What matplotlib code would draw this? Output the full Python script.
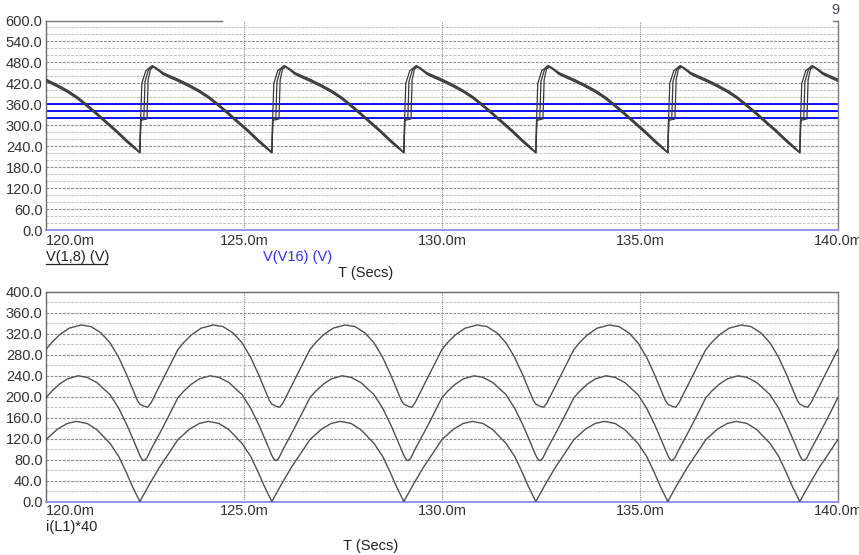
import matplotlib
matplotlib.use("Agg")
import matplotlib.pyplot as plt
import numpy as np
from matplotlib.lines import Line2D

plt.rcParams['font.family'] = ['Liberation Sans', 'DejaVu Sans']

# ---------------- data (time in ms) ----------------
T_START, T_END = 120.0, 140.0
X_TICKS = [120.0, 125.0, 130.0, 135.0, 140.0]
X_TICK_LABELS = ["120.0m", "125.0m", "130.0m", "135.0m", "140.0m"]

TOP_Y_TICKS = [0, 60, 120, 180, 240, 300, 360, 420, 480, 540, 600]
TOP_Y_LABELS = ["0.0", "60.0", "120.0", "180.0", "240.0", "300.0", "360.0",
                "420.0", "480.0", "540.0", "600.0"]
BOT_Y_TICKS = [0, 40, 80, 120, 160, 200, 240, 280, 320, 360, 400]
BOT_Y_LABELS = ["0.0", "40.0", "80.0", "120.0", "160.0", "200.0", "240.0",
                "280.0", "320.0", "360.0", "400.0"]

# ripple cycles: dip times
FIRST_DIP = 122.37
PERIOD = 3.333
CYCLES = [-1, 0, 1, 2, 3, 4, 5]

# V(1,8): three traces, one cycle each, time relative to the dip
V18_A_T = [0.00, 0.02, 0.05, 0.15, 0.31, 0.42, 0.58, 0.80, 1.00, 1.25, 1.51, 1.75, 1.97, 2.20, 2.50, 2.75, 3.00, 3.20, 3.333]
V18_A_V = [221, 318, 420, 456, 471, 464, 451, 440, 430, 416, 400, 382, 362, 340, 310, 285, 258, 238, 221]
V18_B_T = [0.00, 0.02, 0.10, 0.13, 0.22, 0.33, 0.42, 0.58, 0.80, 1.00, 1.25, 1.51, 1.75, 1.97, 2.20, 2.50, 2.75, 3.00, 3.20, 3.333]
V18_B_V = [221, 316, 320, 425, 460, 469, 461, 448, 437, 427, 413, 397, 379, 359, 337, 307, 282, 255, 235, 221]
V18_C_T = [0.00, 0.03, 0.18, 0.21, 0.27, 0.35, 0.45, 0.58, 0.80, 1.00, 1.25, 1.51, 1.75, 1.97, 2.20, 2.50, 2.75, 3.00, 3.20, 3.333]
V18_C_V = [222, 314, 318, 430, 461, 467, 459, 446, 434, 424, 410, 394, 376, 356, 334, 304, 279, 252, 233, 222]

# V(V16): three DC levels
V16_LEVELS = [360, 340, 320]

# i(L1)*40: three traces, one cycle each, time relative to the dip
IL_TOP_T = [0.00, 0.10, 0.20, 0.28, 0.40, 0.68, 0.96, 1.10, 1.30, 1.55, 1.85, 2.10, 2.35, 2.58, 2.80, 3.00, 3.15, 3.27, 3.333]
IL_TOP_V = [186, 182, 180, 188, 206, 248, 290, 303, 318, 331, 337, 334, 322, 303, 275, 242, 215, 193, 186]
IL_MID_T = [0.00, 0.05, 0.10, 0.17, 0.30, 0.50, 0.68, 0.96, 1.10, 1.30, 1.50, 1.77, 2.00, 2.25, 2.58, 2.80, 3.00, 3.20, 3.333]
IL_MID_V = [88, 81, 78, 82, 102, 130, 156, 198, 210, 224, 234, 240, 237, 227, 204, 178, 147, 112, 88]
IL_LOW_T = [0.00, 0.25, 0.50, 0.75, 0.96, 1.25, 1.50, 1.73, 2.00, 2.25, 2.58, 2.80, 3.00, 3.15, 3.333]
IL_LOW_V = [0, 34, 66, 94, 118, 138, 149, 153, 149, 137, 111, 86, 54, 28, 0]


def build(rel_t, vals):
    ts, vs = [], []
    for k in CYCLES:
        start = FIRST_DIP + k * PERIOD
        ts.extend(start + np.asarray(rel_t))
        vs.extend(vals)
    return np.array(ts), np.array(vs)


# ---------------- figure ----------------
W, H = 859, 555
fig = plt.figure(figsize=(W / 100, H / 100), dpi=100)

def px_axes(x0, y_top, x1, y_bot):
    return fig.add_axes([x0 / W, 1 - y_bot / H, (x1 - x0) / W, (y_bot - y_top) / H])

ax1 = px_axes(46, 20.5, 838, 230)
ax2 = px_axes(46, 292, 838, 501.5)

TXT = '#333333'
FS = 10.5

def style(ax, yticks, ylabels, ymax, minor_step, full_top, xpad):
    ax.set_xlim(T_START, T_END)
    ax.set_ylim(0, ymax)
    ax.set_yticks(yticks)
    ax.set_yticklabels(ylabels)
    ax.set_xticks(X_TICKS)
    ax.set_xticklabels(X_TICK_LABELS)
    ax.get_xticklabels()[0].set_horizontalalignment('left')
    ax.tick_params(axis='y', length=0, pad=2.5, labelsize=FS, labelcolor=TXT)
    ax.tick_params(axis='x', length=0, pad=xpad, labelsize=FS, labelcolor=TXT)
    # horizontal grid
    for lv in np.arange(minor_step, ymax, minor_step):
        major = (lv % (yticks[1] - yticks[0]) == 0)
        ax.axhline(lv, color='#8c8c8c' if major else '#c4c4c4',
                   ls=(0, (2.5, 1.2)), lw=0.8, zorder=1)
    for xv in X_TICKS[1:-1]:
        ax.axvline(xv, color='#8c8c8c', ls=(0, (1, 1)), lw=0.8, zorder=1)
    for s in ax.spines.values():
        s.set_linewidth(1.0)
    ax.spines['left'].set_color('#6a6a6a')
    ax.spines['right'].set_color('#7a7a7a')
    ax.spines['bottom'].set_color('#8a8aff')
    ax.spines['bottom'].set_linewidth(1.3)
    if full_top:
        ax.spines['top'].set_color('#6a6a6a')
    else:
        ax.spines['top'].set_visible(False)
        ax.add_line(Line2D([0, 0.222], [1, 1], transform=ax.transAxes,
                           color='#777777', lw=1.0, clip_on=False))
        ax.add_line(Line2D([0.994, 1], [1, 1], transform=ax.transAxes,
                           color='#777777', lw=1.0, clip_on=False))

style(ax1, TOP_Y_TICKS, TOP_Y_LABELS, 600, 20, False, 3.2)
style(ax2, BOT_Y_TICKS, BOT_Y_LABELS, 400, 20, True, 2.0)

# top plot traces
for lv in V16_LEVELS:
    ax1.axhline(lv, color='#0000ff', lw=1.3, zorder=2)
for rt, rv in [(V18_A_T, V18_A_V), (V18_B_T, V18_B_V), (V18_C_T, V18_C_V)]:
    t, v = build(rt, rv)
    ax1.plot(t, v, color='#3a3a3a', lw=0.9, zorder=3)

# bottom plot traces
for rt, rv in [(IL_TOP_T, IL_TOP_V), (IL_MID_T, IL_MID_V), (IL_LOW_T, IL_LOW_V)]:
    t, v = build(rt, rv)
    ax2.plot(t, v, color='#505050', lw=1.0, zorder=3)

# labels
def ftext(x, y, s, **kw):
    return fig.text(x / W, 1 - y / H, s, fontsize=FS, **kw)

ftext(46, 257, "V(1,8) (V)", color='#222222', va='center', ha='left')
fig.add_artist(Line2D([46 / W, 107 / W], [1 - 263.5 / H, 1 - 263.5 / H],
                      color='#222222', lw=0.9))
ftext(263, 257, "V(V16) (V)", color='#3030ff', va='center', ha='left')
ftext(366, 273, "T (Secs)", color='#222222', va='center', ha='center')
ftext(46, 527, "i(L1)*40", color='#222222', va='center', ha='left')
ftext(371, 546, "T (Secs)", color='#222222', va='center', ha='center')
ftext(831, 10, "9", color='#444466', va='center', ha='left')

fig.savefig("out.png", dpi=100)
